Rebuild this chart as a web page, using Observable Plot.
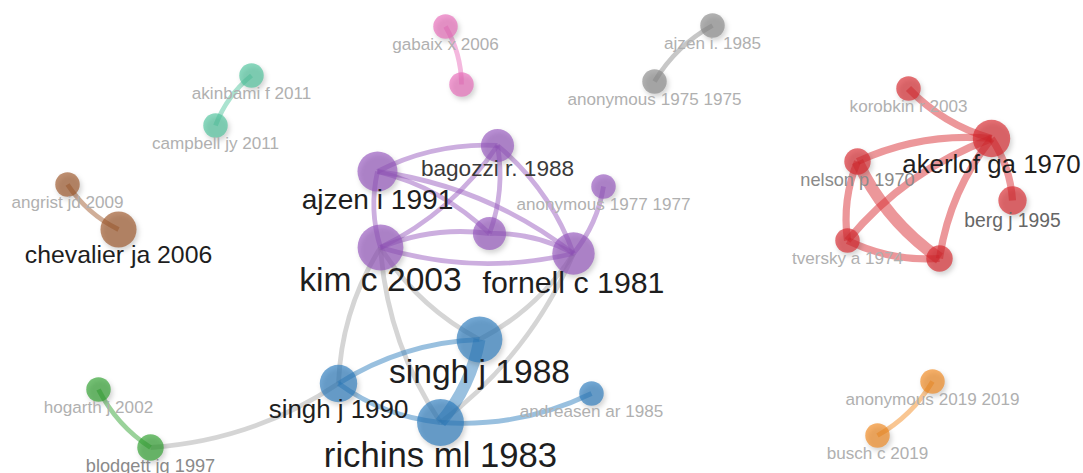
<!DOCTYPE html>
<html><head><meta charset="utf-8">
<script src="https://cdn.jsdelivr.net/npm/d3@7"></script>
<script src="https://cdn.jsdelivr.net/npm/@observablehq/plot@0.6"></script>
<style>
body{margin:0;background:#fff;}
#chart svg circle{filter:drop-shadow(2px 3px 2.5px rgba(0,0,0,0.26));}
</style>
</head><body><div id="chart"></div>
<script>
// ---- data: co-citation network (VOSviewer-style map) ----
const nodeLabels = ["ajzen i 1991","bagozzi r. 1988","anonymous 1977 1977","kim c 2003","fornell c 1981","",
  "singh j 1988","singh j 1990","richins ml 1983","andreasen ar 1985",
  "korobkin r 2003","akerlof ga 1970","nelson p 1970","berg j 1995","tversky a 1974","",
  "angrist jd 2009","chevalier ja 2006","akinbami f 2011","campbell jy 2011",
  "gabaix x 2006","","ajzen i. 1985","anonymous 1975 1975",
  "hogarth j 2002","blodgett jg 1997","anonymous 2019 2019","busch c 2019"];
const nodeCluster = ["C5","C5","C5","C5","C5","C5",
  "C3","C3","C3","C3",
  "C1","C1","C1","C1","C1","C1",
  "C8","C8","C6","C6",
  "C9","C9","C10","C10",
  "C2","C2","C7","C7"];
const nodeX = [377,497,603,380,573,489, 479,338,440,591, 908,991,857,1012,847,939, 67,118,251,215, 445,461,712,654, 98,150,932,877];
const nodeY = [171,145,186,247,253,233, 339,383,422,393, 88,138,161,200,240,258, 184,229,75,125, 26,84,25,81, 389,447,381,435];
const nodeWeight = [16,11,6,21,18,11, 21,14,22,6, 6,14,7,8,6,7, 6,13,6,6, 6,6,6,6, 6,7,6,6];

const linkSource = [7,7,8,6,4,4, 7,8,6,9, 0,3,0,0,1,1,1,3,4,5,2, 11,12,11,14,15,14,15,15, 17,19,20,23,25,26];
const linkTarget = [25,3,3,3,6,8, 6,7,8,8, 1,0,5,4,3,5,4,5,3,4,4, 10,11,13,11,11,12,12,14, 16,18,21,22,24,27];
const linkStrength = [2,2,2,2,2,2, 2,2,5,2, 2,2,2,2,2,2,2,2,2,2,2, 3,3,3,3,3,3,5,3, 2,2,2,2,2,2];

// ---- derived tables ----
const radius = w => 5 * Math.sqrt(w);
const fontOf = w => 10.5 + 1.1 * w;
const labelGray = d3.scaleLinear().domain([6, 7, 8, 11, 13]).range(["#b0b0b0", "#8a8a8a", "#666666", "#3a3a3a", "#1e1e1e"]).clamp(true);

const nodes = nodeLabels.map((label, i) => ({
  label, cluster: nodeCluster[i], x: nodeX[i], y: nodeY[i], w: nodeWeight[i],
  r: radius(nodeWeight[i]), fs: fontOf(nodeWeight[i]), tc: labelGray(nodeWeight[i])
}));
const links = linkSource.map((s, i) => {
  const a = nodes[s], b = nodes[linkTarget[i]];
  return {x1: a.x, y1: a.y, x2: b.x, y2: b.y, s: linkStrength[i],
    cluster: a.cluster === b.cluster ? a.cluster : "between"};
});

const clusterDomain = ["C1","C2","C3","C5","C7","C8","C9","C10","C6","between"];
const clusterRange  = ["#d8262c","#2ca02c","#2a7bbd","#9455bd","#f2871c","#9c5527","#e86ab9","#8a8a8a","#4dc49d","#a8a8a8"];

const chart = Plot.plot({
  width: 1083, height: 473,
  margin: 0,
  x: {domain: [0, 1083], range: [0, 1083], axis: null},
  y: {domain: [0, 473], range: [0, 473], axis: null},
  r: {type: "identity"},
  color: {type: "ordinal", domain: clusterDomain, range: clusterRange},
  style: {fontFamily: "'Liberation Sans', Arial, sans-serif", background: "#fff"},
  marks: [
    Plot.arrow(links, {x1: "x1", y1: "y1", x2: "x2", y2: "y2", bend: 15, headLength: 0,
      stroke: "cluster", strokeWidth: d => 2.4 * d.s, strokeOpacity: 0.48, strokeLinecap: "butt"}),
    Plot.dot(nodes, {x: "x", y: "y", r: "r", fill: "cluster", fillOpacity: 0.66, stroke: "none"}),
    Plot.text(nodes.filter(d => d.label), {x: "x", y: d => d.y + d.r + 0.58 * d.fs + 1, text: "label",
      fontSize: "fs", fill: {value: d => d.tc, scale: null}, lineAnchor: "bottom", textAnchor: "middle"})
  ]
});
document.getElementById("chart").appendChild(chart);
</script>
</body></html>
